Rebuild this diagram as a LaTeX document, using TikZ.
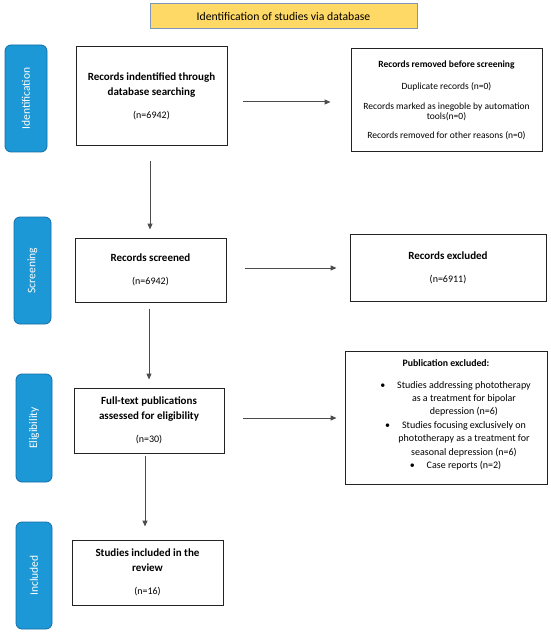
\documentclass[tikz,border=0pt]{standalone}
\usepackage{fontspec}
\setmainfont{Carlito}
\usetikzlibrary{arrows.meta}
\definecolor{sideblue}{RGB}{28,152,214}
\definecolor{sideedge}{RGB}{20,110,170}
\definecolor{titlefill}{RGB}{255,217,102}
\definecolor{titleedge}{RGB}{125,150,185}
\definecolor{boxedge}{RGB}{35,35,35}
\tikzset{
  sidebar/.style={rotate=90, draw=sideedge, line width=0.8pt, fill=sideblue, rounded corners=6pt,
    text=white, font=\fontsize{11.5}{13}\selectfont, inner sep=0pt},
  flowbox/.style={draw=boxedge, line width=1pt, fill=white, align=center, inner sep=0pt},
  lbox/.style={flowbox, font=\fontsize{11}{15}\selectfont},
  rbox/.style={flowbox, font=\fontsize{9.5}{10}\selectfont},
  arr/.style={draw=black!70, line width=1pt, -{Triangle[length=6pt,width=5pt]}},
}
\begin{document}
\begin{tikzpicture}[x=1pt,y=-1pt]
\useasboundingbox[fill=white] (0,0) rectangle (550,636);

% title bar
\node[draw=titleedge, line width=1pt, fill=titlefill, minimum width=267pt, minimum height=25pt,
  inner sep=0pt, font=\fontsize{11.7}{13}\selectfont] (title) at (283.5,16.5) {Identification of studies via database};

% side bars
\node[sidebar, minimum width=107pt, minimum height=42pt] (sidA) at (26,98.5) {Identification};
\node[sidebar, minimum width=107pt, minimum height=37pt] (sidB) at (32.5,270.5) {Screening};
\node[sidebar, minimum width=108pt, minimum height=36pt] (sidC) at (34,428) {Eligibility};
\node[sidebar, minimum width=107pt, minimum height=36pt] (sidD) at (34,575.5) {Included};

% left column
\node[lbox, minimum width=151pt, minimum height=99pt] (b1) at (151.5,96.5)
  {\textbf{Records indentified through}\\\textbf{database searching}\\[8pt]{\fontsize{10}{12}\selectfont(n=6942)}};
\node[lbox, minimum width=151pt, minimum height=64pt] (b2) at (150.5,270)
  {\textbf{Records screened}\\[8pt]{\fontsize{10}{12}\selectfont(n=6942)}};
\node[lbox, minimum width=150pt, minimum height=65pt] (b3) at (149,420.5)
  {\textbf{Full-text publications}\\\textbf{assessed for eligibility}\\[8pt]{\fontsize{10}{12}\selectfont(n=30)}};
\node[lbox, minimum width=151pt, minimum height=65pt] (b4) at (147.5,572.5)
  {\textbf{Studies included in the}\\\textbf{review}\\[8pt]{\fontsize{10}{12}\selectfont(n=16)}};

% right column
\node[rbox, minimum width=191pt, minimum height=103pt] (r1) at (446.5,100.5)
  {\textbf{Records removed before screening}\\[12pt]Duplicate records (n=0)\\[10pt]Records marked as inegoble by automation\\tools(n=0)\\[9pt]Records removed for other reasons (n=0)};
\node[lbox, minimum width=196pt, minimum height=67pt] (r2) at (448,267.5)
  {\textbf{Records excluded}\\[8pt]{\fontsize{10}{12}\selectfont(n=6911)}};
\node[flowbox, minimum width=202pt, minimum height=133pt] (r3) at (446,417.5) {};
\node[font=\fontsize{9.8}{13.4}\selectfont\bfseries, inner sep=0pt] (r3title) at (446,363) {Publication excluded:};
\node[font=\fontsize{10}{13.4}\selectfont, align=center, inner sep=0pt, anchor=north] (r3list) at (464,381)
  {\llap{\textbullet\hspace{12pt}}Studies addressing phototherapy\\as a treatment for bipolar\\depression (n=6)\\
   \llap{\textbullet\hspace{12pt}}Studies focusing exclusively on\\phototherapy as a treatment for\\seasonal depression (n=6)\\
   \llap{\textbullet\hspace{12pt}}Case reports (n=2)};

% connectors
\draw[arr] ([xshift=15pt,yshift=-5.5pt]b1.east) -- ([xshift=-20pt,yshift=-1.5pt]r1.west);
\draw[arr] ([xshift=-1.5pt,yshift=-15pt]b1.south) -- ([xshift=-0.5pt,yshift=8pt]b2.north);
\draw[arr] ([xshift=18pt,yshift=2pt]b2.east) -- ([xshift=-13pt,yshift=-0.5pt]r2.west);
\draw[arr] ([xshift=-1.5pt,yshift=-6pt]b2.south) -- ([xshift=0pt,yshift=8pt]b3.north);
\draw[arr] ([xshift=18pt,yshift=2.5pt]b3.east) -- ([xshift=-8pt,yshift=-0.5pt]r3.west);
\draw[arr] ([xshift=-4pt,yshift=-2pt]b3.south) -- ([xshift=-2.5pt,yshift=13pt]b4.north);
\end{tikzpicture}
\end{document}
